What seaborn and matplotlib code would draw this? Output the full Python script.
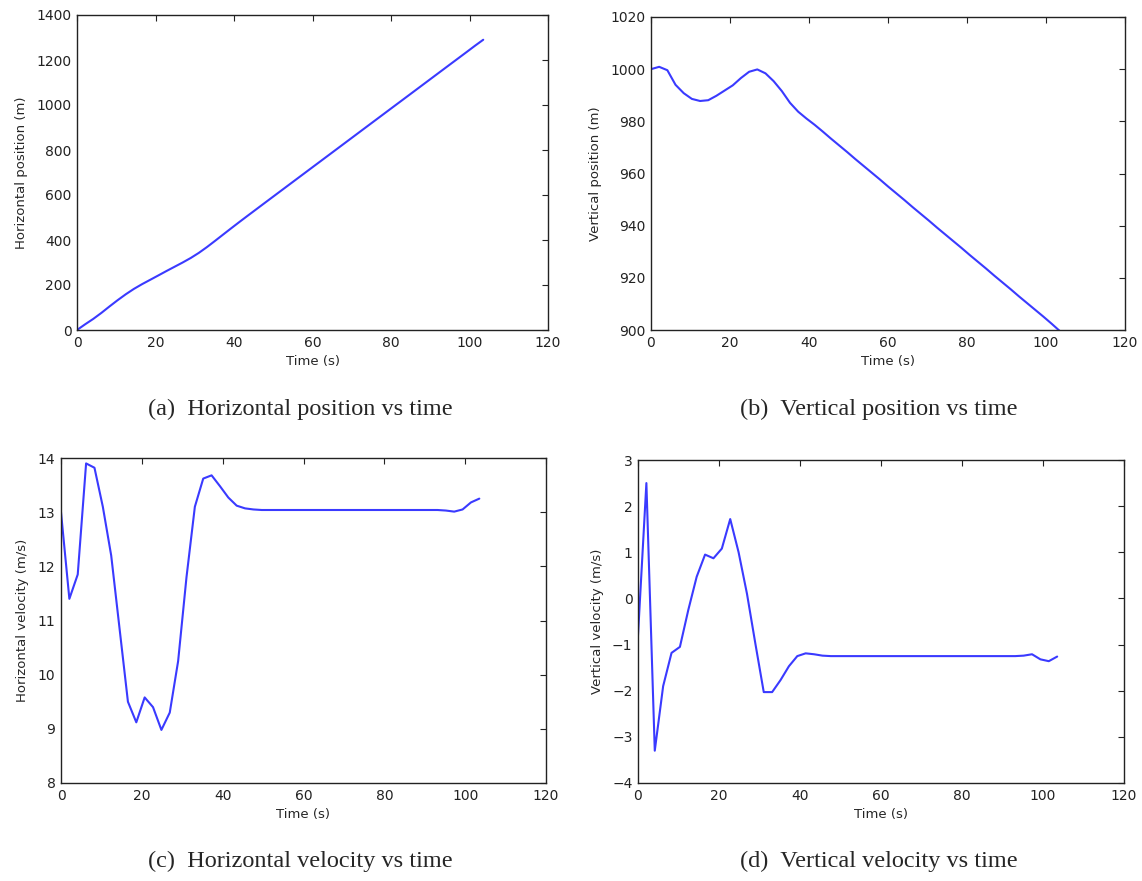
import matplotlib
matplotlib.use("Agg")
import matplotlib.pyplot as plt
import seaborn as sns
import pandas as pd

# ---- data ----
time_s = [0.0, 2.07, 4.14, 6.21, 8.28, 10.35, 12.42, 14.49, 16.56, 18.63,
          20.7, 22.77, 24.84, 26.91, 28.98, 31.05, 33.12, 35.19, 37.26, 39.33,
          41.4, 43.47, 45.54, 47.61, 49.68, 51.75, 53.82, 55.89, 57.96, 60.03,
          62.1, 64.17, 66.24, 68.31, 70.38, 72.45, 74.52, 76.59, 78.66, 80.73,
          82.8, 84.87, 86.94, 89.01, 91.08, 93.15, 95.22, 97.29, 99.36, 101.43,
          103.5]

horiz_pos = [0.0, 25.3, 49.3, 76.0, 104.7, 132.5, 158.7, 182.6, 203.6, 222.9,
             242.3, 261.9, 280.9, 299.9, 320.1, 342.9, 368.7, 396.4, 424.6, 452.7,
             480.4, 507.7, 534.8, 561.9, 588.9, 615.9, 642.9, 669.9, 696.9, 723.9,
             750.8, 777.8, 804.8, 831.8, 858.8, 885.8, 912.8, 939.8, 966.8, 993.8,
             1020.7, 1047.7, 1074.7, 1101.7, 1128.7, 1155.7, 1182.7, 1209.6, 1236.6, 1263.8,
             1290.0]

vert_pos = [1000.0, 1000.9, 999.6, 994.0, 990.8, 988.6, 987.8, 988.1, 989.8, 991.8,
            993.8, 996.6, 999.0, 999.9, 998.4, 995.4, 991.6, 987.1, 983.7, 981.1,
            978.7, 976.1, 973.4, 970.8, 968.2, 965.5, 962.9, 960.3, 957.7, 955.0,
            952.4, 949.8, 947.1, 944.5, 941.9, 939.2, 936.6, 934.0, 931.4, 928.7,
            926.1, 923.5, 920.8, 918.2, 915.6, 912.9, 910.3, 907.7, 905.1, 902.4,
            899.6]

horiz_vel = [13.0, 11.4, 11.85, 13.9, 13.82, 13.1, 12.2, 10.85, 9.5, 9.12,
             9.58, 9.4, 8.98, 9.3, 10.25, 11.8, 13.1, 13.62, 13.68, 13.48,
             13.27, 13.12, 13.07, 13.05, 13.04, 13.04, 13.04, 13.04, 13.04, 13.04,
             13.04, 13.04, 13.04, 13.04, 13.04, 13.04, 13.04, 13.04, 13.04, 13.04,
             13.04, 13.04, 13.04, 13.04, 13.04, 13.04, 13.03, 13.01, 13.05, 13.18,
             13.25]

vert_vel = [-0.8, 2.5, -3.3, -1.9, -1.18, -1.05, -0.25, 0.47, 0.95, 0.87,
            1.08, 1.72, 1.0, 0.1, -0.98, -2.03, -2.03, -1.77, -1.47, -1.25,
            -1.19, -1.21, -1.24, -1.25, -1.25, -1.25, -1.25, -1.25, -1.25, -1.25,
            -1.25, -1.25, -1.25, -1.25, -1.25, -1.25, -1.25, -1.25, -1.25, -1.25,
            -1.25, -1.25, -1.25, -1.25, -1.25, -1.25, -1.24, -1.21, -1.32, -1.36,
            -1.26]

ylabels = ["Horizontal position (m)", "Vertical position (m)",
           "Horizontal velocity (m/s)", "Vertical velocity (m/s)"]
captions = ["(a)  Horizontal position vs time", "(b)  Vertical position vs time",
            "(c)  Horizontal velocity vs time", "(d)  Vertical velocity vs time"]
ylims = [(0, 1400), (900, 1020), (8, 14), (-4, 3)]

df = pd.DataFrame({"t": time_s, "hp": horiz_pos, "vp": vert_pos,
                   "hv": horiz_vel, "vv": vert_vel})
cols = ["hp", "vp", "hv", "vv"]

sns.set_style("white")
plt.rcParams["font.family"] = ["DejaVu Sans"]

W, H = 1142, 881
fig = plt.figure(figsize=(W / 100, H / 100), dpi=100)

# axes boxes in pixels: left, right, top, bottom
boxes = [(77, 548, 15, 330), (651, 1125, 17, 330),
         (61, 546, 458, 783), (638, 1124, 460, 783)]
cap_pos = [(300, 409), (879, 409), (300, 861), (879, 861)]

for i in range(4):
    l, r, t, b = boxes[i]
    ax = fig.add_axes([l / W, 1 - b / H, (r - l) / W, (b - t) / H])
    sns.lineplot(data=df, x="t", y=cols[i], ax=ax, color="#3a3aff", linewidth=1.5)
    ax.set_xlim(0, 120)
    ax.set_ylim(*ylims[i])
    ax.set_xticks(range(0, 121, 20))
    ax.set_xlabel("Time (s)", fontsize=9.5, labelpad=4)
    ax.set_ylabel(ylabels[i], fontsize=9.5, labelpad=6)
    ax.tick_params(direction="in", length=4, width=0.8, top=True, right=True,
                   labelsize=10, colors="#222222", pad=4)
    for s in ax.spines.values():
        s.set_color("#222222")
        s.set_linewidth(1.0)
    cx, cy = cap_pos[i]
    fig.text(cx / W, 1 - cy / H, captions[i], ha="center", va="center",
             fontsize=17.5, family="Liberation Serif")

fig.savefig("out.png", dpi=100)
